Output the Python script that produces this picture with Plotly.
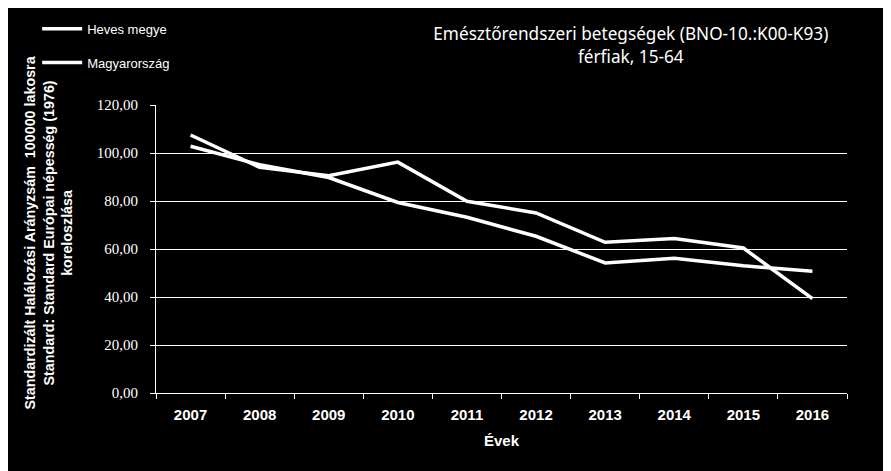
import plotly.graph_objects as go

years = ["2007", "2008", "2009", "2010", "2011", "2012", "2013", "2014", "2015", "2016"]
heves = [107.5, 94.0, 90.5, 96.2, 79.9, 75.0, 62.8, 64.4, 60.4, 39.3]
magyar = [102.8, 95.1, 89.8, 79.4, 73.2, 65.3, 54.2, 56.1, 53.0, 50.7]
series_names = ["Heves megye", "Magyarország"]
y_ticks = [0, 20, 40, 60, 80, 100, 120]

title_text = "Emésztőrendszeri betegségek (BNO-10.:K00-K93)<br>férfiak, 15-64"
ytitle_text = ("Standardizált Halálozási Arányzsám  100000 lakosra<br>"
               "Standard: Standard Európai népesség (1976)<br>koreloszlása")
xtitle_text = "Évek"

NARROW = "Liberation Sans Narrow, Liberation Sans, sans-serif"

fig = go.Figure()
for name, vals in zip(series_names, [heves, magyar]):
    fig.add_trace(go.Scatter(
        x=years, y=vals, mode="lines", name=name, legendgroup=name,
        line=dict(color="white", width=3.5),
    ))

fig.update_layout(
    width=891, height=471,
    paper_bgcolor="black", plot_bgcolor="black",
    margin=dict(l=148, r=52, t=97, b=86, autoexpand=False),
    separators=", ",
    showlegend=True,
    legend=dict(
        x=-0.172, y=1.317, xanchor="left", yanchor="top",
        font=dict(family=NARROW, size=13, color="white"),
        bgcolor="rgba(0,0,0,0)", tracegroupgap=14, itemwidth=40,
    ),
    title=dict(
        text=title_text, x=0.699, xanchor="center", y=0.931, yanchor="top",
        font=dict(family="Noto Sans, sans-serif", size=17.2, color="white"),
    ),
    xaxis=dict(
        type="category", range=[-0.5, 9.5], showgrid=False,
        showline=True, linecolor="white", linewidth=1,
        ticks="outside", tickson="boundaries", ticklen=5, tickcolor="white",
        ticklabelstandoff=8,
        tickfont=dict(family=NARROW, size=15, color="white", weight="bold"),
        title=dict(text=xtitle_text, standoff=13,
                   font=dict(family=NARROW, size=15, color="white", weight="bold")),
    ),
    yaxis=dict(
        range=[0, 120], tickvals=y_ticks, tickformat=".2f",
        showgrid=True, gridcolor="white", gridwidth=1,
        showline=True, linecolor="white", linewidth=1,
        ticks="outside", ticklen=5, tickcolor="white",
        ticklabelstandoff=9,
        tickfont=dict(family="Liberation Serif, serif", size=15, color="white"),
        zeroline=False,
    ),
    annotations=[dict(
        text=ytitle_text, textangle=-90, xref="paper", yref="paper",
        x=-0.155, y=0.557, xanchor="center", yanchor="middle", showarrow=False,
        font=dict(family=NARROW, size=14.3, color="white", weight="bold"),
    )],
)

fig.write_html("out.html")
